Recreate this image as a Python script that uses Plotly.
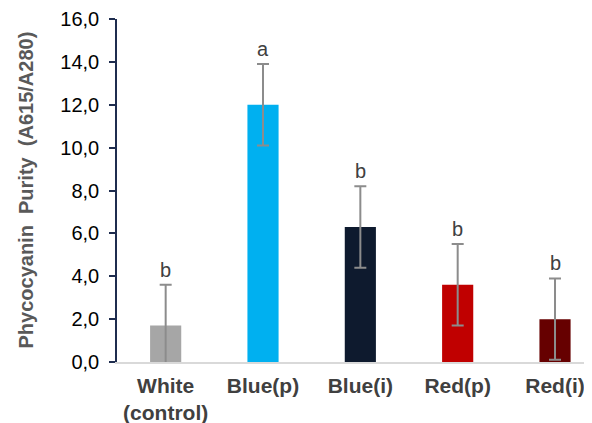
import plotly.graph_objects as go

categories = ["White<br>(control)", "Blue(p)", "Blue(i)", "Red(p)", "Red(i)"]
purity = [1.7, 12.0, 6.3, 3.6, 2.0]
errors = [1.9, 1.9, 1.9, 1.9, 1.9]
letters = ["b", "a", "b", "b", "b"]
colors = ["#A6A6A6", "#00B0F0", "#0E1A2E", "#C00000", "#660000"]
y_ticks = [0, 2, 4, 6, 8, 10, 12, 14, 16]
y_tick_labels = ["0,0", "2,0", "4,0", "6,0", "8,0", "10,0", "12,0", "14,0", "16,0"]

fig = go.Figure()
fig.add_trace(go.Bar(
    x=categories, y=purity, width=0.32,
    marker=dict(color=colors, line=dict(width=0)),
    error_y=dict(type="data", array=errors, visible=True,
                 color="#8C8C8C", thickness=2, width=6),
    showlegend=False,
))

for c, v, e, t in zip(categories, purity, errors, letters):
    fig.add_annotation(x=c, y=v + e, text=t, showarrow=False,
                       yanchor="bottom", yshift=2,
                       font=dict(family="Liberation Sans, Arial", size=20, color="#404040"))

fig.add_annotation(xref="paper", yref="paper", x=(17 - 109) / 475, y=0.5,
                   text="<b>Phycocyanin  Purity  (A615/A280)</b>", textangle=-90,
                   showarrow=False, xanchor="center", yanchor="middle",
                   font=dict(family="Liberation Sans, Arial", size=20, color="#595959"))

fig.update_layout(
    width=584, height=415,
    margin=dict(l=109, r=0, t=11, b=61, autoexpand=False),
    paper_bgcolor="white", plot_bgcolor="white",
    font=dict(family="Liberation Sans, Arial", color="#404040"),
)
fig.update_xaxes(
    range=[-0.5, 4.38], showline=True, linecolor="#D9D9D9", linewidth=1.5,
    ticks="", showgrid=False, zeroline=False, automargin=False,
    ticklabelstandoff=4,
    tickfont=dict(family="Liberation Sans, Arial", size=21, color="#404040", weight="bold"),
    fixedrange=True,
)
fig.update_yaxes(
    range=[0, 16], tickvals=y_ticks, ticktext=y_tick_labels,
    showline=True, linecolor="#1F2D4F", linewidth=1.5,
    ticks="outside", ticklen=6, tickcolor="#1F2D4F", tickwidth=1.5,
    showgrid=False, zeroline=False, automargin=False,
    ticklabelstandoff=6,
    tickfont=dict(family="Liberation Sans, Arial", size=20, color="#000000"),
    fixedrange=True,
)

fig.write_html("out.html")
